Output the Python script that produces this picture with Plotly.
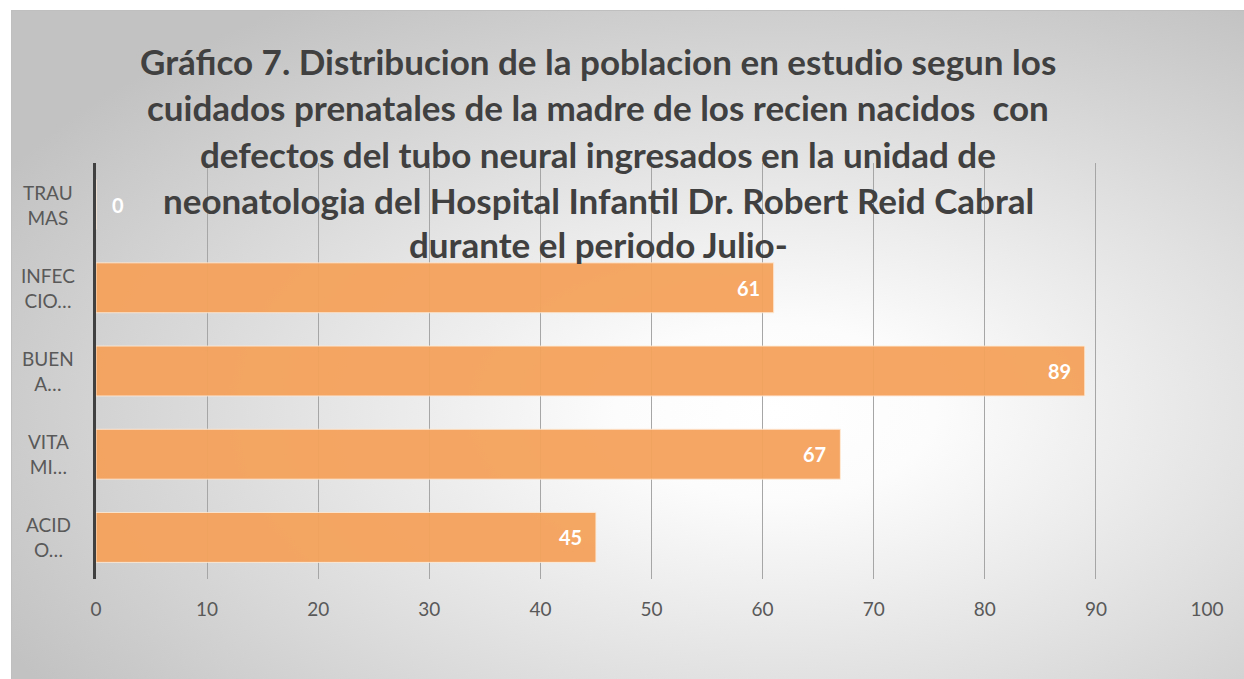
import base64
import plotly.graph_objects as go

# ---- data (bottom to top) ----
categories = ["ACIDO", "VITAMINAS", "BUENA", "INFECCIONES", "TRAUMAS"]
category_labels = ["ACID<br>O…", "VITA<br>MI…", "BUEN<br>A…", "INFEC<br>CIO…", "TRAU<br>MAS"]
values = [45, 67, 89, 61, 0]
x_ticks = [0, 10, 20, 30, 40, 50, 60, 70, 80, 90, 100]
title_lines = [
    "Gráfico 7. Distribucion de la poblacion en estudio segun los",
    "cuidados prenatales de la madre de los recien nacidos\u00a0 con",
    "defectos del tubo neural ingresados en la unidad de",
    "neonatologia del Hospital Infantil Dr. Robert Reid Cabral",
    "durante el periodo Julio-",
]

W, H = 1244, 679
L, T = 96, 163
R = W - 1207
B = H - 579
PW, PH = W - L - R, H - T - B

def px_x(p):
    return (p - L) / PW

def px_y(p):
    return 1 + (T - p) / PH

FONT = "Lato"

BW, BH = W - 11, H - 10
svg = (
    f"<svg xmlns='http://www.w3.org/2000/svg' width='{BW}' height='{BH}' viewBox='0 0 {BW} {BH}' "
    "preserveAspectRatio='none'><defs><radialGradient id='g' cx='0.62' cy='0.6' r='0.72'>"
    "<stop offset='0' stop-color='#ffffff'/><stop offset='0.18' stop-color='#fcfcfc'/>"
    "<stop offset='1' stop-color='#c2c2c2'/></radialGradient></defs>"
    f"<rect width='{BW}' height='{BH}' fill='url(#g)'/></svg>"
)
svg_uri = "data:image/svg+xml;base64," + base64.b64encode(svg.encode()).decode()

fig = go.Figure()
fig.add_trace(go.Bar(
    y=categories, x=values, orientation="h",
    marker=dict(color="#F5A25C", line=dict(color="rgba(255,235,215,0.9)", width=1)),
    opacity=0.95, width=0.6, hoverinfo="skip",
))

annotations = []
title_y = [61, 107, 154, 200, 244]
for txt, yy in zip(title_lines, title_y):
    annotations.append(dict(
        text=txt, xref="paper", yref="paper", x=px_x(598), y=px_y(yy),
        xanchor="center", yanchor="middle", showarrow=False,
        font=dict(family=FONT, size=35, color="#404040", weight="bold"),
    ))
for cat, lab in zip(categories, category_labels):
    annotations.append(dict(
        text=lab, xref="paper", yref="y", x=px_x(48), y=cat,
        xanchor="center", yanchor="middle", align="center", showarrow=False,
        font=dict(family=FONT, size=19, color="#595959"),
    ))
for cat, v in zip(categories, values):
    annotations.append(dict(
        text=str(v), xref="x", yref="y", x=v, y=cat,
        xanchor="right" if v > 0 else "left", xshift=-12 if v > 0 else 14,
        yanchor="middle", showarrow=False,
        font=dict(family=FONT, size=20, color="white", weight="bold"),
    ))

fig.update_layout(
    width=W, height=H,
    margin=dict(l=L, r=R, t=T, b=B),
    paper_bgcolor="white", plot_bgcolor="rgba(0,0,0,0)",
    showlegend=False,
    annotations=annotations,
    images=[dict(
        source=svg_uri, xref="paper", yref="paper",
        x=px_x(11), y=px_y(10), sizex=BW / PW, sizey=BH / PH,
        xanchor="left", yanchor="top", sizing="stretch", layer="below",
    )],
    shapes=[
        dict(type="line", xref="paper", yref="paper", x0=px_x(11), x1=px_x(W + 20),
             y0=px_y(10.5), y1=px_y(10.5), line=dict(color="#bfbfbf", width=1)),
        dict(type="line", xref="paper", yref="paper", x0=px_x(11.5), x1=px_x(11.5),
             y0=px_y(10), y1=px_y(H + 20), line=dict(color="#bfbfbf", width=1)),
    ],
    xaxis=dict(
        range=[0, 100], tickvals=x_ticks, showgrid=True, gridcolor="#a6a6a6", gridwidth=1,
        zeroline=False, showline=False, ticks="",
        tickfont=dict(family=FONT, size=19, color="#595959"), ticklabelstandoff=17,
    ),
    yaxis=dict(
        range=[-0.5, 4.5], showticklabels=False, showgrid=False, zeroline=False,
        showline=True, linecolor="#404040", linewidth=3, ticks="",
    ),
    bargap=0.4,
)

fig.write_html(
    "out.html",
    config={"displayModeBar": False},
    post_script="document.body.style.margin='0';document.body.style.overflow='hidden';",
)
